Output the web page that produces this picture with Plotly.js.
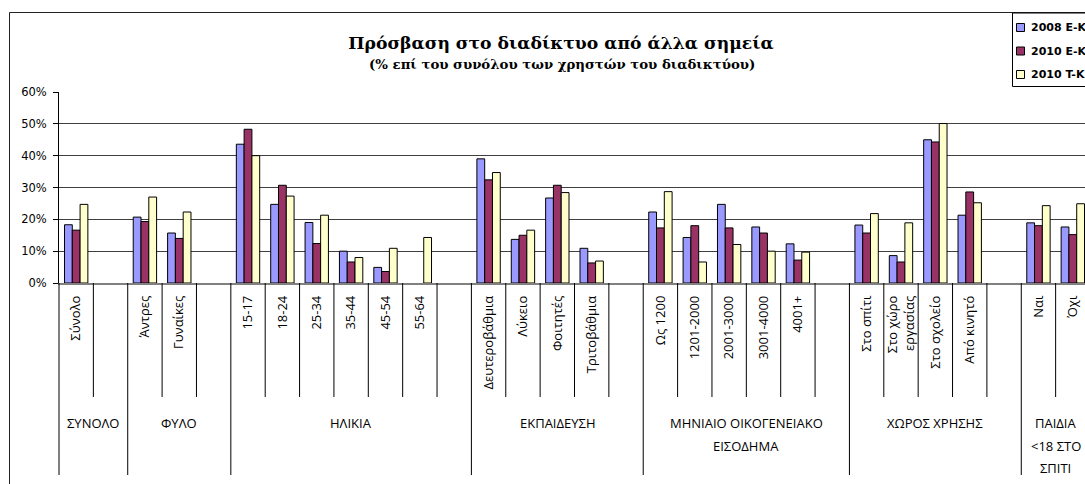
<!DOCTYPE html>
<html>
<head>
<meta charset="utf-8">
<script src="https://cdn.plot.ly/plotly-3.0.1.min.js"></script>
<style>
html, body { margin:0; padding:0; overflow:hidden; background:#fff; }
#chart { width:1100px; height:484px; }
</style>
</head>
<body>
<div id="chart"></div>
<script>
// Categories (blank strings are the empty spacer slots between groups)
const categories = ['Σύνολο','', 'Άντρες','Γυναίκες','', '15-17','18-24','25-34','35-44','45-54','55-64','',
  'Δευτεροβάθμια','Λύκειο','Φοιτητές','Τριτοβάθμια','',
  'Ως 1200','1201-2000','2001-3000','3001-4000','4001+','',
  'Στο σπίτι','Στο χώρο<br>εργασίας','Στο σχολείο','Από κινητό','',
  'Ναι','Όχι'];

const series2008EK = [18.3,null, 20.7,15.7,null, 43.6,24.7,19.0,10.0,4.9,null,null,
  39.0,13.7,26.7,10.9,null, 22.3,14.3,24.7,17.6,12.3,null, 18.2,8.6,45.0,21.3,null, 18.9,17.6];
const series2010EK = [16.6,null, 19.3,14.0,null, 48.3,30.7,12.4,6.6,3.6,null,null,
  32.4,15.0,30.7,6.3,null, 17.3,18.0,17.3,15.7,7.2,null, 15.7,6.6,44.3,28.6,null, 18.0,15.2];
const series2010TK = [24.7,null, 27.0,22.3,null, 40.0,27.3,21.3,8.0,10.9,14.3,null,
  34.7,16.6,28.4,6.9,null, 28.7,6.6,12.1,10.0,9.7,null, 21.8,18.9,50.1,25.2,null, 24.3,24.9];

const seriesNames = ['2008 E-K','2010 E-K','2010 T-K'];
const seriesColors = ['#9999FF','#993366','#FFFFCC'];

// Groups of categories: label lines, first category index
const groupLabels = [['ΣΥΝΟΛΟ'],['ΦΥΛΟ'],['ΗΛΙΚΙΑ'],['ΕΚΠΑΙΔΕΥΣΗ'],
  ['ΜΗΝΙΑΙΟ ΟΙΚΟΓΕΝΕΙΑΚΟ','ΕΙΣΟΔΗΜΑ'],['ΧΩΡΟΣ ΧΡΗΣΗΣ'],['ΠΑΙΔΙΑ','&lt;18 ΣΤΟ','ΣΠΙΤΙ']];
const groupStarts = [0,2,5,12,17,23,28];

const titleText = 'Πρόσβαση στο διαδίκτυο από άλλα σημεία';
const subtitleText = '(% επί του συνόλου των χρηστών του διαδικτύου)';

const idx = categories.map((c,i)=>i);
const N = categories.length;

const allSeries = [series2008EK, series2010EK, series2010TK];
const traces = allSeries.map((vals,k)=>({
  type:'bar', x:idx, y:vals, name:seriesNames[k],
  marker:{color:seriesColors[k], line:{color:'#000', width:1}},
  hoverinfo:'skip', showlegend:false
}));

// layout pixel helpers (plot area: left 59, width 1031, top 92, height 191)
const PL=59, PW=1031, PT=92, PH=191;
const px2paperX = p => (p-PL)/PW;
const px2paperY = p => (PT+PH-p)/PH;

const shapes = [];
const groupSet = new Set(groupStarts.concat([N]));
for (let b=0;b<=N;b++){
  const long = groupSet.has(b);
  shapes.push({type:'line', xref:'paper', yref:'paper',
    x0:b/N, x1:b/N, y0:0, y1: long ? px2paperY(475) : px2paperY(397),
    line:{color:'#000', width:1}});
}
// outer chart border
shapes.push({type:'rect', xref:'paper', yref:'paper',
  x0:px2paperX(9.5), x1:px2paperX(1200), y0:px2paperY(12.5), y1:px2paperY(600),
  line:{color:'#222', width:1}, fillcolor:'rgba(0,0,0,0)'});

const annotations = [];
groupLabels.forEach((lines,g)=>{
  const s = groupStarts[g];
  const e = (g+1<groupStarts.length) ? groupStarts[g+1] : N;
  const cx = (s+e-1)/2;
  lines.forEach((t,j)=>{
    annotations.push({xref:'x', yref:'paper', x:cx, y:px2paperY(423+22.5*j),
      text:t, showarrow:false, xanchor:'center', yanchor:'middle',
      font:{family:'Open Sans, sans-serif', size:13, color:'#000'}});
  });
});
annotations.push({xref:'paper', yref:'paper', x:px2paperX(562), y:px2paperY(64),
  text:'<b>'+subtitleText+'</b>', showarrow:false, xanchor:'center', yanchor:'middle',
  font:{family:'DejaVu Serif, serif', size:13.3, color:'#000'}});

// legend (drawn by hand so its layout matches the original box)
shapes.push({type:'rect', xref:'paper', yref:'paper',
  x0:px2paperX(1012.5), x1:px2paperX(1200), y0:px2paperY(13), y1:px2paperY(86.5),
  line:{color:'#000', width:1}, fillcolor:'#fff'});
seriesNames.forEach((nm,k)=>{
  const cy = 27.5 + 23.5*k;
  shapes.push({type:'rect', xref:'paper', yref:'paper',
    x0:px2paperX(1016.5), x1:px2paperX(1024.5), y0:px2paperY(cy-4), y1:px2paperY(cy+4),
    line:{color:'#000', width:1}, fillcolor:seriesColors[k]});
  annotations.push({xref:'paper', yref:'paper', x:px2paperX(1029), y:px2paperY(cy),
    text:'<b>'+nm+'</b>', showarrow:false, xanchor:'left', yanchor:'middle',
    font:{family:'DejaVu Sans, sans-serif', size:11, color:'#000'}});
});

const layout = {
  width:1100, height:484, autosize:false,
  margin:{l:PL, r:1100-PL-PW, t:PT, b:484-PT-PH, pad:0, autoexpand:false},
  paper_bgcolor:'#fff', plot_bgcolor:'#fff',
  title:{text:'<b>'+titleText+'</b>', xref:'container', yref:'container',
    x:561/1100, y:1-43/484, xanchor:'center', yanchor:'middle',
    font:{family:'DejaVu Serif, serif', size:17.2, color:'#000'}},
  barmode:'group', bargap:0.32, bargroupgap:0,
  showlegend:false,
  xaxis:{type:'linear', range:[-0.5, N-0.5], tickvals:idx, ticktext:categories,
    tickangle:-90, ticks:'', showgrid:false, zeroline:false,
    showline:true, linecolor:'#808080', linewidth:1.5,
    ticklabelstandoff:6,
    tickfont:{family:'Open Sans, sans-serif', size:13, color:'#000'}},
  yaxis:{range:[0,60], dtick:10, ticksuffix:'%', showgrid:true, gridcolor:'#404040', gridwidth:1,
    zeroline:false, showline:true, linecolor:'#000', linewidth:1,
    ticks:'outside', ticklen:5, tickcolor:'#000', ticklabelstandoff:4,
    tickfont:{family:'DejaVu Sans, sans-serif', size:11.5, color:'#000'}},
  shapes:shapes, annotations:annotations
};

Plotly.newPlot('chart', traces, layout, {displayModeBar:false, staticPlot:true});
</script>
</body>
</html>
